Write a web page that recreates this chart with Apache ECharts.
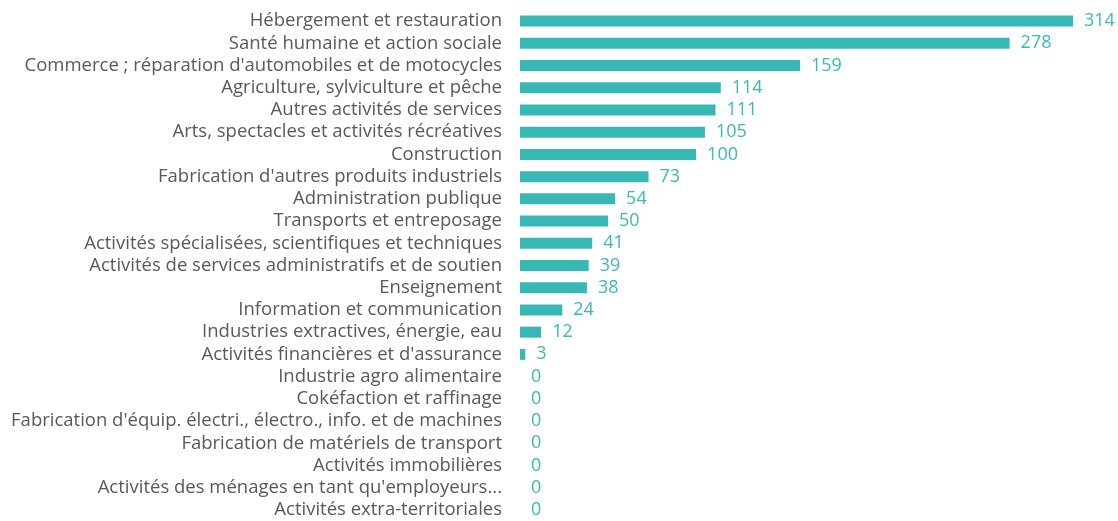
<!DOCTYPE html>
<html>
<head>
<meta charset="utf-8">
<script src="https://cdn.jsdelivr.net/npm/echarts@6/dist/echarts.min.js"></script>
<style>
  html, body { margin: 0; padding: 0; background: #fff; }
  #chart { width: 1118px; height: 521px; }
</style>
</head>
<body>
<div id="chart"></div>
<script>
// secteurs, du plus grand au plus petit
const categories = [
  "Hébergement et restauration",
  "Santé humaine et action sociale",
  "Commerce ; réparation d'automobiles et de motocycles",
  "Agriculture, sylviculture et pêche",
  "Autres activités de services",
  "Arts, spectacles et activités récréatives",
  "Construction",
  "Fabrication d'autres produits industriels",
  "Administration publique",
  "Transports et entreposage",
  "Activités spécialisées, scientifiques et techniques",
  "Activités de services administratifs et de soutien",
  "Enseignement",
  "Information et communication",
  "Industries extractives, énergie, eau",
  "Activités financières et d'assurance",
  "Industrie agro alimentaire",
  "Cokéfaction et raffinage",
  "Fabrication d'équip. électri., électro., info. et de machines",
  "Fabrication de matériels de transport",
  "Activités immobilières",
  "Activités des ménages en tant qu'employeurs...",
  "Activités extra-territoriales"
];
const values = [314, 278, 159, 114, 111, 105, 100, 73, 54, 50, 41, 39, 38, 24, 12, 3, 0, 0, 0, 0, 0, 0, 0];

const myChart = echarts.init(document.getElementById("chart"));
const option = {
  animation: false,
  backgroundColor: "#fff",
  grid: {
    left: 520,
    width: 553,
    top: 10,
    height: 515
  },
  xAxis: {
    type: "value",
    min: 0,
    max: 314,
    show: false
  },
  yAxis: {
    type: "category",
    inverse: true,
    data: categories,
    axisLine: { show: false },
    axisTick: { show: false },
    axisLabel: {
      interval: 0,
      margin: 18,
      fontFamily: "Open Sans",
      fontSize: 18.5,
      color: "#595959"
    }
  },
  series: [
    {
      type: "bar",
      data: values,
      barWidth: 11,
      itemStyle: { color: "#38B8B5" },
      label: {
        show: true,
        position: "right",
        distance: 11,
        fontFamily: "Open Sans",
        fontSize: 18,
        color: "#3BB9B6"
      }
    }
  ]
};
myChart.setOption(option);
</script>
</body>
</html>
